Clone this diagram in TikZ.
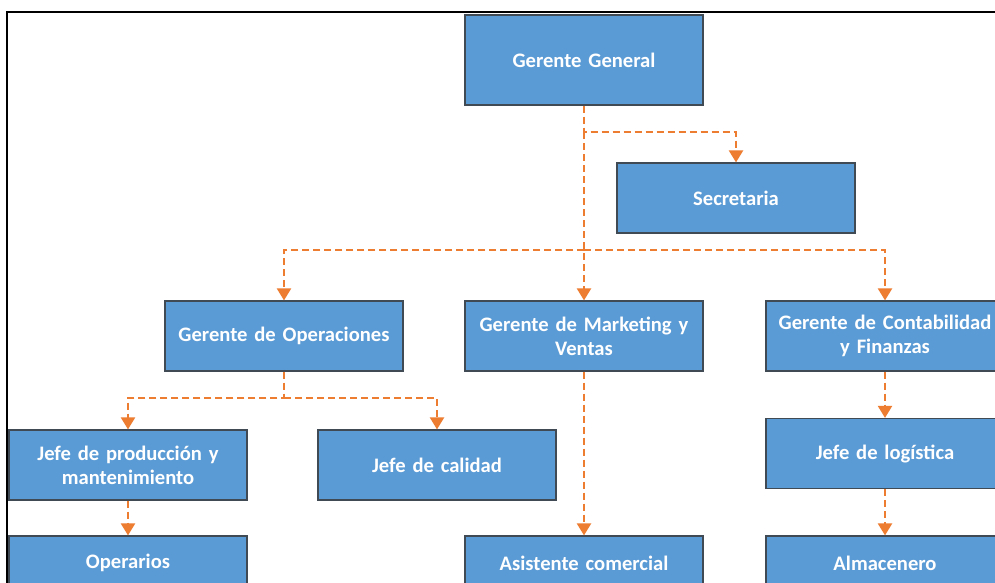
\documentclass[tikz,border=0pt]{standalone}
\usepackage{fontspec}
\setmainfont{Carlito}
\usetikzlibrary{arrows.meta}
\definecolor{boxfill}{HTML}{5B9BD5}
\definecolor{boxline}{HTML}{3F4A55}
\definecolor{linkcol}{HTML}{ED7D31}
\begin{document}
\begin{tikzpicture}[x=1pt,y=-1pt,
  box/.style={rectangle, fill=boxfill, draw=boxline, line width=1.2pt,
    minimum width=238pt, minimum height=70pt, inner sep=2pt,
    text width=234pt, align=center, text=white,
    font=\fontsize{20.6}{24}\selectfont\bfseries},
  conn/.style={draw=linkcol, line width=2.2pt, dash pattern=on 7pt off 4pt,
    -{Triangle[width=14pt,length=12pt,fill=linkcol]}},
  frameline/.style={draw=black, line width=2pt}]
\useasboundingbox (0,0) rectangle (995,583);
\clip (0,0) rectangle (995,583);
\fill[white] (0,0) rectangle (995,583);
% outer frame
\draw[frameline] (7,590) -- (7,12) -- (1000,12);

% boxes
\node[box, minimum height=90pt] (gg) at (584,60) {Gerente General};
\node[box] (sec) at (736,198) {Secretaria};
\node[box] (gop) at (284,336) {Gerente de Operaciones};
\node[box] (gmv) at (584,336) {Gerente de Marketing y\\Ventas};
\node[box] (gcf) at (885,336) {Gerente de Contabilidad\\y Finanzas};
\node[box] (jpm) at (128,465) {Jefe de producción y\\mantenimiento};
\node[box] (jcal) at (437,465) {Jefe de calidad};
\node[box] (jlog) at (885,453.5) {Jefe de logística};
\node[box, minimum height=54pt] (ope) at (128,563) {Operarios};
\node[box, minimum height=54pt] (asc) at (584,563) {Asistente comercial};
\node[box, minimum height=54pt] (alm) at (885,563) {Almacenero};

% junction points
\coordinate (jsec) at (584,132);
\coordinate (jger) at (584,250);
\coordinate (jop)  at (284,398);

% connectors
\draw[conn] (gg.south) -- (jsec) -| (sec.north);
\draw[conn] (jsec) -- (gmv.north);
\draw[conn] (jger) -| (gop.north);
\draw[conn] (jger) -| (gcf.north);
\draw[conn] (gop.south) -- (jop) -| (jpm.north);
\draw[conn] (jop) -| (jcal.north);
\draw[conn] (jpm.south) -- (ope.north);
\draw[conn] (gmv.south) -- (asc.north);
\draw[conn] (gcf.south) -- (jlog.north);
\draw[conn] (jlog.south) -- (alm.north);
\end{tikzpicture}
\end{document}
